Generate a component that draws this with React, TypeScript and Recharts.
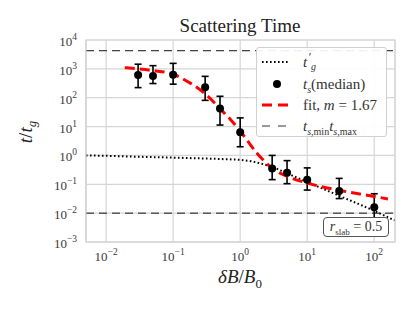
import React from "react";
import {
  ComposedChart,
  Line,
  Scatter,
  ErrorBar,
  XAxis,
  YAxis,
  CartesianGrid,
  ReferenceLine,
  ReferenceArea,
} from "recharts";

// ---- data ----
const xTicks = [0.01, 0.1, 1, 10, 100];
const yTicks = [1e-3, 1e-2, 1e-1, 1, 10, 100, 1e3, 1e4];

const medianX = [0.03, 0.05, 0.1, 0.3, 0.5, 1, 3, 5, 10, 30, 100];
const medianY = [616, 560, 630, 230, 42, 6.4, 0.355, 0.25, 0.145, 0.058, 0.016];
const lowY = [224, 310, 295, 81, 11.3, 2.0, 0.145, 0.105, 0.063, 0.032, 0.0065];
const highY = [1450, 1290, 1550, 550, 112, 20, 1.0, 0.66, 0.37, 0.16, 0.047];

const fitX = [0.019, 0.03, 0.05, 0.1, 0.18, 0.32, 0.55, 0.71, 1, 1.78, 3, 5, 10, 30, 100, 160];
const fitY = [1100, 1000, 870, 650, 320, 120, 33, 18, 7, 1.2, 0.36, 0.19, 0.11, 0.062, 0.038, 0.031];

const tgX = [0.005, 0.01, 0.03, 0.1, 0.3, 0.5, 1, 1.5, 2, 3, 5, 10, 30, 100, 200];
const tgY = [1.0, 0.97, 0.9, 0.84, 0.78, 0.75, 0.7, 0.62, 0.53, 0.4, 0.24, 0.12, 0.04, 0.012, 0.0056];

const tsMin = 0.01;
const tsMax = 4250;

const xDomain = [0.00501, 204];
const yDomain = [1e-3, 1e4];

const medianData = medianX.map((x, i) => ({
  x,
  y: medianY[i],
  err: [medianY[i] - lowY[i], highY[i] - medianY[i]],
}));
const fitData = fitX.map((x, i) => ({ x, y: fitY[i] }));
const tgData = tgX.map((x, i) => ({ x, y: tgY[i] }));

const FONT = "'Liberation Serif', 'DejaVu Serif', serif";
const TICK_COLOR = "#3a3a3a";

const expText = (v: number) => {
  const e = Math.round(Math.log10(v));
  return e < 0 ? "\u2212" + String(-e) : String(e);
};

const XTick = (props: any) => {
  const { x, y, payload } = props;
  return (
    <text x={x} y={y + 19} textAnchor="middle" fontFamily={FONT} fontSize={13} fill={TICK_COLOR}>
      <tspan>10</tspan>
      <tspan dy={-6} fontSize={9.5}>{expText(payload.value)}</tspan>
    </text>
  );
};

const YTick = (props: any) => {
  const { x, y, payload } = props;
  return (
    <text x={x - 9} y={y + 6} textAnchor="end" fontFamily={FONT} fontSize={13} fill={TICK_COLOR}>
      <tspan>10</tspan>
      <tspan dy={-6} fontSize={9.5}>{expText(payload.value)}</tspan>
    </text>
  );
};

const Dot = (props: any) => {
  const { cx, cy } = props;
  return <circle cx={cx} cy={cy} r={4} fill="#000" />;
};

export default function App() {
  return (
    <div
      style={{
        position: "absolute",
        left: 0,
        top: 0,
        width: 415,
        height: 312,
        background: "#fff",
        fontFamily: FONT,
      }}
    >
      <ComposedChart
        width={415}
        height={312}
        margin={{ top: 40, right: 20, bottom: 40, left: 0 }}
      >
        <CartesianGrid stroke="#d6d6d6" strokeWidth={1.2} />
        <XAxis
          dataKey="x"
          type="number"
          scale="log"
          domain={xDomain}
          allowDataOverflow
          ticks={xTicks}
          tick={<XTick />}
          tickSize={0}
          tickMargin={0}
          axisLine={{ stroke: "#d6d6d6", strokeWidth: 1.2 }}
          height={30}
        />
        <YAxis
          dataKey="y"
          type="number"
          scale="log"
          domain={yDomain}
          allowDataOverflow
          ticks={yTicks}
          tick={<YTick />}
          tickSize={0}
          tickMargin={0}
          axisLine={{ stroke: "#d6d6d6", strokeWidth: 1.2 }}
          width={86}
        />
        <ReferenceArea
          x1={xDomain[0]}
          x2={xDomain[1]}
          y1={yDomain[0]}
          y2={yDomain[1]}
          fill="none"
          stroke="#d6d6d6"
          strokeWidth={1.2}
        />
        <Line
          data={tgData}
          dataKey="y"
          type="monotone"
          stroke="#000"
          strokeWidth={2}
          strokeDasharray="1.6 2.4"
          dot={false}
          isAnimationActive={false}
        />
        <Scatter data={medianData} dataKey="y" fill="#000" shape={<Dot />} isAnimationActive={false}>
          <ErrorBar dataKey="err" direction="y" width={3.5} stroke="#000" strokeWidth={1.6} />
        </Scatter>
        <Line
          data={fitData}
          dataKey="y"
          type="monotone"
          stroke="#ff0000"
          strokeWidth={3}
          strokeDasharray="10 5"
          dot={false}
          isAnimationActive={false}
        />
        <ReferenceLine y={tsMax} stroke="#111" strokeWidth={1} strokeDasharray="8 5" />
        <ReferenceLine y={tsMin} stroke="#111" strokeWidth={1} strokeDasharray="8 5" />
      </ComposedChart>

      {/* title */}
      <div
        style={{
          position: "absolute",
          top: 16,
          textAlign: "center",
          left: 40,
          width: 400,
          fontSize: 19,
          color: "#222",
          lineHeight: "20px",
        }}
      >
        Scattering Time
      </div>

      {/* x label */}
      <div
        style={{
          position: "absolute",
          left: 140,
          width: 200,
          top: 266,
          textAlign: "center",
          fontSize: 19,
          color: "#222",
          lineHeight: "22px",
        }}
      >
        <i>δB</i>/<i>B</i>
        <sub style={{ fontSize: 13 }}>0</sub>
      </div>

      {/* y label */}
      <div
        style={{
          position: "absolute",
          left: 29,
          top: 132,
          transform: "translate(-50%, -50%) rotate(-90deg)",
          fontSize: 19,
          color: "#222",
          whiteSpace: "nowrap",
          lineHeight: "22px",
        }}
      >
        <i>t</i>/<i>t</i>
        <sub style={{ fontSize: 13 }}>
          <i>g</i>
        </sub>
      </div>

      {/* legend */}
      <div
        style={{
          position: "absolute",
          left: 256,
          top: 47,
          width: 131,
          height: 90,
          boxSizing: "border-box",
          background: "rgba(255,255,255,0.92)",
          border: "1px solid #d0d0d0",
          borderRadius: 3,
          fontSize: 15,
          color: "#333",
        }}
      >
        {[
          { key: "tg", y: 14 },
          { key: "ts", y: 36 },
          { key: "fit", y: 57 },
          { key: "mm", y: 78 },
        ].map((r) => (
          <div key={r.key} style={{ position: "absolute", left: 0, top: r.y - 10, height: 20, width: 131 }}>
            <svg width={40} height={20} style={{ position: "absolute", left: 0, top: 0 }}>
              {r.key === "tg" && (
                <line x1={5} x2={31} y1={10} y2={10} stroke="#000" strokeWidth={2} strokeDasharray="1.6 2.4" />
              )}
              {r.key === "ts" && <circle cx={20} cy={10} r={4} fill="#000" />}
              {r.key === "fit" && (
                <line x1={5} x2={31} y1={10} y2={10} stroke="#ff0000" strokeWidth={3} strokeDasharray="10 6" />
              )}
              {r.key === "mm" && (
                <line x1={5} x2={31} y1={10} y2={10} stroke="#777" strokeWidth={1.5} strokeDasharray="8 8" />
              )}
            </svg>
            <div style={{ position: "absolute", left: 46, top: 0, lineHeight: "20px", whiteSpace: "nowrap" }}>
              {r.key === "tg" && (
                <span style={{ position: "relative", display: "inline-block", width: 16, height: 20 }}>
                  <i style={{ position: "absolute", left: 0, top: 0 }}>t</i>
                  <i style={{ position: "absolute", left: 5, top: 2, fontSize: 12, lineHeight: "7px" }}>'</i>
                  <i style={{ position: "absolute", left: 8, top: 10, fontSize: 10, lineHeight: "10px" }}>g</i>
                </span>
              )}
              {r.key === "ts" && (
                <span>
                  <i>t</i>
                  <sub style={{ fontSize: 10 }}>
                    <i>s</i>
                  </sub>
                  (median)
                </span>
              )}
              {r.key === "fit" && (
                <span>
                  fit, <i>m</i> = 1.67
                </span>
              )}
              {r.key === "mm" && (
                <span>
                  <i>t</i>
                  <sub style={{ fontSize: 10 }}>
                    <i>s</i>,min
                  </sub>
                  <i>t</i>
                  <sub style={{ fontSize: 10 }}>
                    <i>s</i>,max
                  </sub>
                </span>
              )}
            </div>
          </div>
        ))}
      </div>

      {/* r_slab annotation */}
      <div
        style={{
          position: "absolute",
          left: 323,
          top: 217,
          width: 66,
          height: 20,
          boxSizing: "border-box",
          background: "#fff",
          border: "1px solid #555",
          borderRadius: 4,
          fontSize: 14,
          color: "#333",
          lineHeight: "18px",
          textAlign: "center",
          whiteSpace: "nowrap",
        }}
      >
        <i>r</i>
        <sub style={{ fontSize: 9 }}>slab</sub> = 0.5
      </div>
    </div>
  );
}
